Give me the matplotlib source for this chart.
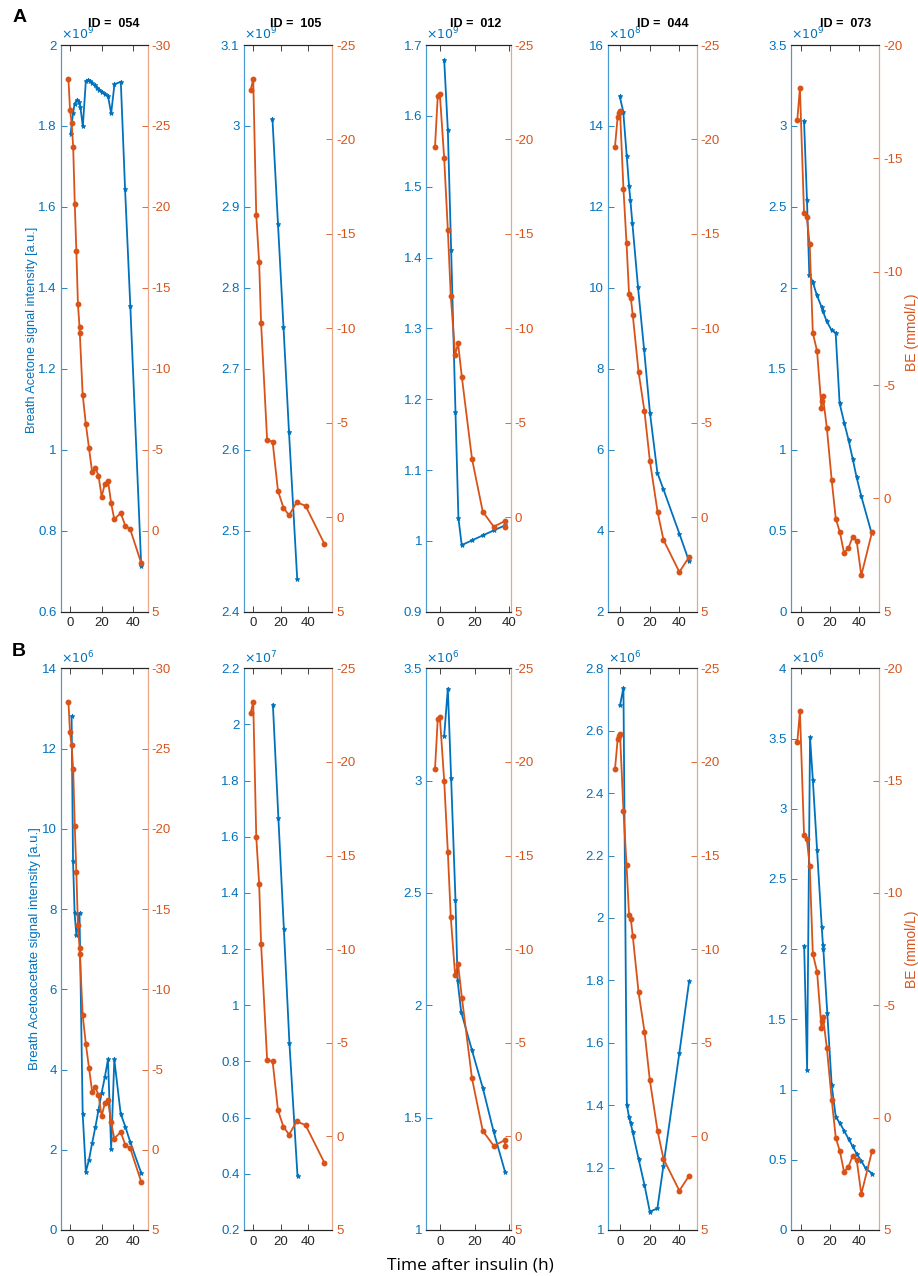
import numpy as np
import matplotlib
matplotlib.use("Agg")
import matplotlib.pyplot as plt
from matplotlib.ticker import FuncFormatter

plt.rcParams['font.family'] = ['Liberation Sans', 'DejaVu Sans']

BLUE = '#0072BD'
ORANGE = '#D95319'
BLUE_SPINE = '#4a9bd4'
ORANGE_SPINE = '#eaa486'
GRAY = '#262626'

ids = ['054', '105', '012', '044', '073']

# base excess (mmol/L), same curve in both rows
be_t_054 = [-1, 0, 1, 2, 3, 4, 5, 6, 6.2, 8, 10, 12, 14, 16, 18, 20, 22, 24, 26, 28, 32, 35, 38, 45]
be_v_054 = [-27.9, -26.0, -25.2, -23.7, -20.2, -17.3, -14.0, -12.6, -12.2, -8.4, -6.6, -5.1,
            -3.6, -3.9, -3.4, -2.1, -2.9, -3.1, -1.7, -0.7, -1.1, -0.3, -0.1, 2.0]
be_t_105 = [-1.9, 0, 2.2, 4.3, 5.7, 10.1, 14.1, 18.0, 22.0, 26.1, 31.6, 38.1, 51.7]
be_v_105 = [-22.6, -23.2, -16.0, -13.5, -10.3, -4.1, -4.0, -1.4, -0.5, -0.1, -0.8, -0.6, 1.4]
be_t_012 = [-2.8, -1.2, 0, 2.5, 4.6, 6.3, 8.8, 10.5, 12.7, 18.5, 24.7, 31, 37.5, 37.5]
be_v_012 = [-19.6, -22.3, -22.4, -19.0, -15.2, -11.7, -8.6, -9.2, -7.4, -3.1, -0.3, 0.5, 0.2, 0.5]
be_t_044 = [-3.4, -1.6, -0.7, 0, 2.3, 4.4, 6.1, 7.3, 8.6, 12.5, 16.5, 20.1, 25.3, 29.3, 40, 46.6]
be_v_044 = [-19.6, -21.2, -21.4, -21.5, -17.4, -14.5, -11.8, -11.6, -10.7, -7.7, -5.6, -3.0,
            -0.3, 1.2, 2.9, 2.1]
be_t_073 = [-2.3, -0.5, 2.3, 4.2, 6.2, 8.3, 11.2, 14.2, 14.8, 15.2, 17.9, 21.2, 24, 26.8,
            29.6, 32.6, 35.5, 38.3, 41.4, 48.7]
be_v_073 = [-16.7, -18.1, -12.6, -12.4, -11.2, -7.3, -6.5, -4.0, -4.3, -4.5, -3.1, -0.8, 0.9,
            1.5, 2.4, 2.2, 1.7, 1.9, 3.4, 1.5]

# breath acetone (mantissa, see exponents below)
ace_t_054 = [0.4, 1.9, 2.9, 4.4, 5.6, 6.5, 8.1, 10.0, 11.3, 12.7, 14.2, 15.6, 17.1, 18.5, 20.0,
             21.9, 24.0, 26.0, 28.1, 32.1, 34.8, 38.1, 45.0]
ace_v_054 = [1.781, 1.831, 1.855, 1.865, 1.859, 1.848, 1.799, 1.911, 1.914, 1.912, 1.905, 1.900,
             1.895, 1.890, 1.885, 1.880, 1.874, 1.831, 1.903, 1.909, 1.644, 1.356, 0.714]
ace_t_105 = [14, 18, 22, 26, 32]
ace_v_105 = [3.008, 2.879, 2.752, 2.622, 2.440]
ace_t_012 = [2.5, 4.6, 6.5, 9.0, 10.7, 12.6, 18.7, 25.0, 31.2, 37.7]
ace_v_012 = [1.679, 1.580, 1.411, 1.182, 1.032, 0.994, 1.001, 1.008, 1.015, 1.022]
ace_t_044 = [-0.2, 2.2, 4.5, 6.1, 7.0, 8.3, 12.1, 16.2, 20.2, 25.2, 29.2, 40.0, 46.5]
ace_v_044 = [14.73, 14.35, 13.27, 12.51, 12.16, 11.61, 10.03, 8.49, 6.91, 5.43, 5.03, 3.93, 3.25]
ace_t_073 = [2.3, 4.3, 5.9, 8.2, 10.9, 14.3, 15.2, 17.7, 21.1, 23.9, 26.6, 29.8, 32.7, 35.5,
             38.2, 41.4, 48.4]
ace_v_073 = [3.033, 2.545, 2.081, 2.039, 1.959, 1.881, 1.856, 1.795, 1.739, 1.722, 1.287, 1.165,
             1.060, 0.945, 0.830, 0.713, 0.486]
ace_exp = [9, 9, 9, 8, 9]

# breath acetoacetate
acac_t_054 = [1.0, 1.9, 2.9, 4.0, 5.0, 6.0, 8.0, 10, 12, 14, 16, 18, 20, 22, 24, 26, 28, 32, 35, 38, 45]
acac_v_054 = [12.8, 9.2, 7.9, 7.35, 7.6, 7.9, 2.9, 1.45, 1.75, 2.17, 2.56, 2.99, 3.42, 3.81, 4.25,
              2.02, 4.25, 2.9, 2.57, 2.2, 1.42]
acac_t_105 = [14.3, 18.3, 22.3, 26.3, 32.2]
acac_v_105 = [2.071, 1.666, 1.270, 0.867, 0.392]
acac_t_012 = [2.5, 4.6, 6.5, 9.0, 10.2, 12.3, 18.5, 24.8, 30.9, 37.5]
acac_v_012 = [3.20, 3.41, 3.01, 2.47, 2.11, 1.97, 1.80, 1.63, 1.44, 1.26]
acac_t_044 = [0, 2.3, 4.6, 6.1, 7.2, 8.5, 12.5, 16.5, 20.1, 25.2, 29.2, 40, 46.6]
acac_v_044 = [2.681, 2.738, 1.401, 1.361, 1.342, 1.314, 1.228, 1.144, 1.059, 1.069, 1.204, 1.567, 1.797]
acac_t_073 = [2.4, 4.4, 6.4, 8.3, 11.2, 14.4, 15.2, 15.5, 18.2, 21.2, 24.0, 26.9, 29.9, 32.7,
              35.5, 38.3, 41.4, 44.3, 48.8]
acac_v_073 = [2.021, 1.140, 3.509, 3.208, 2.708, 2.158, 2.033, 2.000, 1.542, 1.030, 0.804, 0.759,
              0.702, 0.649, 0.595, 0.542, 0.491, 0.440, 0.402]
acac_exp = [6, 7, 6, 6, 6]

be_t = [be_t_054, be_t_105, be_t_012, be_t_044, be_t_073]
be_v = [be_v_054, be_v_105, be_v_012, be_v_044, be_v_073]
ace_t = [ace_t_054, ace_t_105, ace_t_012, ace_t_044, ace_t_073]
ace_v = [ace_v_054, ace_v_105, ace_v_012, ace_v_044, ace_v_073]
acac_t = [acac_t_054, acac_t_105, acac_t_012, acac_t_044, acac_t_073]
acac_v = [acac_v_054, acac_v_105, acac_v_012, acac_v_044, acac_v_073]

# axis ranges
xlims = [(-5.7, 49.1), (-7.0, 57.5), (-7.8, 40.8), (-7.9, 51.7), (-6.8, 53.7)]
ace_ylim = [(0.6, 2.0, 0.2), (2.4, 3.1, 0.1), (0.9, 1.7, 0.1), (2, 16, 2), (0, 3.5, 0.5)]
acac_ylim = [(0, 14, 2), (0.2, 2.2, 0.2), (1, 3.5, 0.5), (1, 2.8, 0.2), (0, 4, 0.5)]
be_top = [-30, -25, -25, -25, -20]

W, H = 918, 1276
fig = plt.figure(figsize=(W / 100, H / 100), dpi=100)

lefts = [61, 243.6, 426.3, 608.3, 790.7]
widths = [86.7, 88.7, 84.4, 88.4, 88.6]
rows = [(45, 611.7), (668.3, 1230)]

fmt = FuncFormatter(lambda v, p: f'{v:g}')


def panel(i, row, t, v, ylim, exp):
    top, bot = rows[row]
    ax = fig.add_axes([lefts[i] / W, 1 - bot / H, widths[i] / W, (bot - top) / H])
    ax2 = ax.twinx()
    lo, hi, step = ylim
    ax.plot(t, v, color=BLUE, lw=1.3, marker='*', ms=3.5, mew=0.6)
    ax.set_ylim(lo, hi)
    ax.set_yticks(np.round(np.arange(lo, hi + step / 2, step), 6))
    ax.yaxis.set_major_formatter(fmt)
    ax.set_xlim(*xlims[i])
    ax.set_xticks([0, 20, 40])
    ax.tick_params(axis='x', direction='in', length=4, width=0.6, top=True,
                   colors=GRAY, labelsize=9.5, pad=4)
    ax.tick_params(axis='y', direction='in', length=4, width=0.6, colors=BLUE,
                   labelsize=9.5, pad=3)

    ax2.plot(be_t[i], be_v[i], color=ORANGE, lw=1.3, marker='o', ms=3.2)
    ax2.set_ylim(5, be_top[i])
    ax2.set_yticks(np.arange(be_top[i], 6, 5))
    ax2.yaxis.set_major_formatter(fmt)
    ax2.tick_params(axis='y', direction='in', length=4, width=0.6, colors=ORANGE,
                    labelsize=9.5, pad=3)

    for a in (ax, ax2):
        a.spines['left'].set_color(BLUE_SPINE)
        a.spines['right'].set_color(ORANGE_SPINE)
        a.spines['top'].set_color(GRAY)
        a.spines['bottom'].set_color(GRAY)
        for s in a.spines.values():
            s.set_linewidth(0.8)

    ax.text(0.0, 1.004, r'$\times10^{%d}$' % exp, transform=ax.transAxes,
            color=BLUE, fontsize=9, ha='left', va='bottom')
    return ax, ax2


title_x = [114, 295.5, 476, 663, 846]
for i in range(5):
    panel(i, 0, ace_t[i], ace_v[i], ace_ylim[i], ace_exp[i])
    panel(i, 1, acac_t[i], acac_v[i], acac_ylim[i], acac_exp[i])
    fig.text(title_x[i] / W, 1 - 23.8 / H, f'ID =  {ids[i]}', fontsize=9,
             fontweight='bold', ha='center', va='center')

fig.text(20 / W, 1 - 17.8 / H, 'A', fontsize=14, fontweight='bold', ha='center', va='center')
fig.text(19 / W, 1 - 651.7 / H, 'B', fontsize=14, fontweight='bold', ha='center', va='center')

fig.text(31.7 / W, 1 - 330 / H, 'Breath Acetone signal intensity [a.u.]', color=BLUE,
         fontsize=9.2, rotation=90, ha='center', va='center')
fig.text(35 / W, 1 - 949 / H, 'Breath Acetoacetate signal intensity [a.u.]', color=BLUE,
         fontsize=9.5, rotation=90, ha='center', va='center')
fig.text(911.7 / W, 1 - 332 / H, 'BE (mmol/L)', color=ORANGE,
         fontsize=10, rotation=90, ha='center', va='center')
fig.text(911.7 / W, 1 - 949 / H, 'BE (mmol/L)', color=ORANGE,
         fontsize=10, rotation=90, ha='center', va='center')

fig.text(470 / W, 1 - 1265 / H, 'Time after insulin (h)', fontsize=12.5,
         family='Open Sans', ha='center', va='center')

fig.savefig('out.png', dpi=100)
